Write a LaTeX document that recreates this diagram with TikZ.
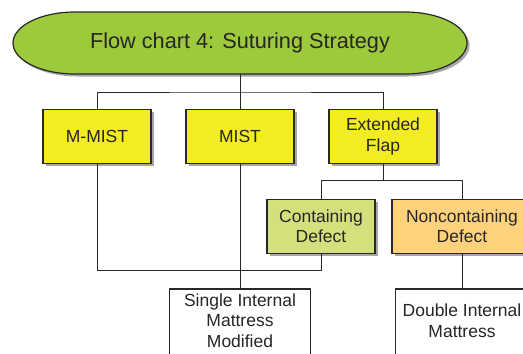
\documentclass[tikz,border=0pt]{standalone}
\usepackage{fontspec}
\setmainfont{Liberation Sans}
\usetikzlibrary{shadows}
\definecolor{titlegreen}{RGB}{157,201,60}
\definecolor{boxyellow}{RGB}{243,236,32}
\definecolor{lightgreen}{RGB}{211,224,124}
\definecolor{lightorange}{RGB}{254,210,124}
\definecolor{edge}{RGB}{40,40,40}
\tikzset{
  shad/.style={drop shadow={shadow xshift=2.5pt, shadow yshift=-2.5pt, opacity=0.35, fill=black}},
  boxnode/.style={draw=edge, line width=1.2pt, shad, minimum width=108pt, minimum height=54pt,
    align=center, inner sep=1pt, font=\fontsize{17.5}{20.5}\selectfont, text=black!85},
  whitebox/.style={draw=edge, line width=1.2pt, fill=white, inner sep=0pt},
  label/.style={font=\fontsize{17.5}{20.3}\selectfont, text=black!85, align=center},
  conn/.style={draw=edge, line width=1pt},
}
\begin{document}
\begin{tikzpicture}[x=1pt,y=-1pt]
\useasboundingbox (0,0) rectangle (523,354);
% title shape
\path[draw=edge, line width=1.2pt, fill=titlegreen, shad]
  (75,12) -- (405,12) arc[start angle=-90, end angle=90, x radius=62, y radius=31]
  -- (75,74) arc[start angle=90, end angle=270, x radius=62, y radius=31] -- cycle;
\node[font=\fontsize{21.7}{26}\selectfont, text=black!85] (title) at (240,43) {Flow chart 4: Suturing Strategy};
\coordinate (tb) at (240,74);
% first row
\node[boxnode, fill=boxyellow] (mmist) at (97,136.5) {M-MIST};
\node[boxnode, fill=boxyellow] (mist) at (240,136.5) {MIST};
\node[boxnode, fill=boxyellow] (ext) at (383,136.5) {Extended\\Flap};
% second row
\node[boxnode, fill=lightgreen] (cont) at (321,226.3) {Containing\\Defect};
\node[boxnode, fill=lightorange, minimum width=140pt] (noncont) at (462,226.3) {Noncontaining\\Defect};
% third row
\node[whitebox, minimum width=141pt, minimum height=80pt, anchor=north] (single) at (240,288.3) {};
\node[label] (singletext) at (240,320.5) {Single Internal\\Mattress\\Modified};
\node[whitebox, minimum width=134pt, minimum height=80pt, anchor=north west] (double) at (395,288.3) {};
\node[label] (doubletext) at (462,320.7) {Double Internal\\Mattress};
% connectors
\coordinate (j1) at (240,92);
\draw[conn] (tb) -- (j1);
\draw[conn] (mmist.north) |- (j1) -| (ext.north);
\draw[conn] (j1) -- (mist.north);
\coordinate (j2) at (383,180.7);
\draw[conn] (ext.south) -- (j2);
\draw[conn] (cont.north) |- (j2) -| (noncont.north);
\coordinate (j3) at (97,270.7);
\draw[conn] (mmist.south) -- (j3) -| (cont.south);
\draw[conn] (mist.south) -- (single.north);
\draw[conn] (noncont.south) -- (noncont.south |- double.north);
\end{tikzpicture}
\end{document}
